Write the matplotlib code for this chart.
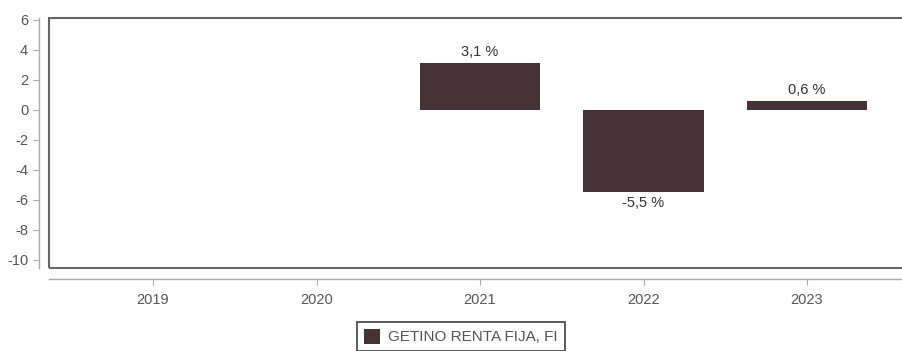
import numpy as np
import matplotlib
matplotlib.use("Agg")
from matplotlib import pyplot as plt
from matplotlib.patches import Rectangle

plt.rcParams['font.family'] = ['Liberation Sans', 'DejaVu Sans']

years = ['2019', '2020', '2021', '2022', '2023']
returns = [np.nan, np.nan, 3.1, -5.5, 0.6]
labels = ['', '', '3,1 %', '-5,5 %', '0,6 %']
fund_name = 'GETINO RENTA FIJA, FI'
y_ticks = [6, 4, 2, 0, -2, -4, -6, -8, -10]

bar_color = '#463236'
axis_gray = '#aaaaaa'
text_gray = '#555555'

fig = plt.figure(figsize=(9.03, 3.51), dpi=100)
ax = fig.add_axes([0.0543, 0.2365, 0.9546, 0.7123])

x = np.arange(len(years))
bars = ax.bar(x, returns, width=0.735, color=bar_color, label=fund_name)

# etiquetas de rentabilidad encima / debajo de cada barra
for xi, val, txt in zip(x, returns, labels):
    if np.isnan(val):
        continue
    off = 3 if val >= 0 else -3
    ax.annotate(txt, (xi, val), xytext=(0, off), textcoords='offset points',
                ha='center', va='bottom' if val >= 0 else 'top',
                fontsize=10.5, color='#333333')

ax.set_xlim(-0.636, len(years) - 1 + 0.636)
ax.set_ylim(-10.55, 6.12)
ax.set_xticks(x)
ax.set_xticklabels(years)
ax.set_yticks(y_ticks)
ax.set_yticklabels([str(t) for t in y_ticks])

# marco del area de dibujo
ax.add_patch(Rectangle((0, 0), 1, 1, transform=ax.transAxes, fill=False,
                       edgecolor='#666666', linewidth=1.5, clip_on=False, zorder=5))

for side in ['top', 'right']:
    ax.spines[side].set_visible(False)
ax.spines['left'].set_position(('outward', 7))
ax.spines['bottom'].set_position(('outward', 8))
for side in ['left', 'bottom']:
    ax.spines[side].set_color(axis_gray)
    ax.spines[side].set_linewidth(1.0)
ax.tick_params(axis='both', colors=axis_gray, length=4, width=0.8,
               labelcolor=text_gray, labelsize=10.5)
ax.tick_params(axis='x', pad=6)
ax.tick_params(axis='y', pad=4)

leg = fig.legend(handles=[bars], labels=[fund_name], loc='upper center',
                 bbox_to_anchor=(0.5105, 0.0826), borderaxespad=0,
                 frameon=True, fancybox=False, fontsize=11,
                 handlelength=1.0, handleheight=1.1,
                 borderpad=0.45, handletextpad=0.55)
leg.get_frame().set_edgecolor('#222222')
leg.get_frame().set_linewidth(1.3)
for t in leg.get_texts():
    t.set_color(text_gray)

fig.savefig('out.png', dpi=100)
